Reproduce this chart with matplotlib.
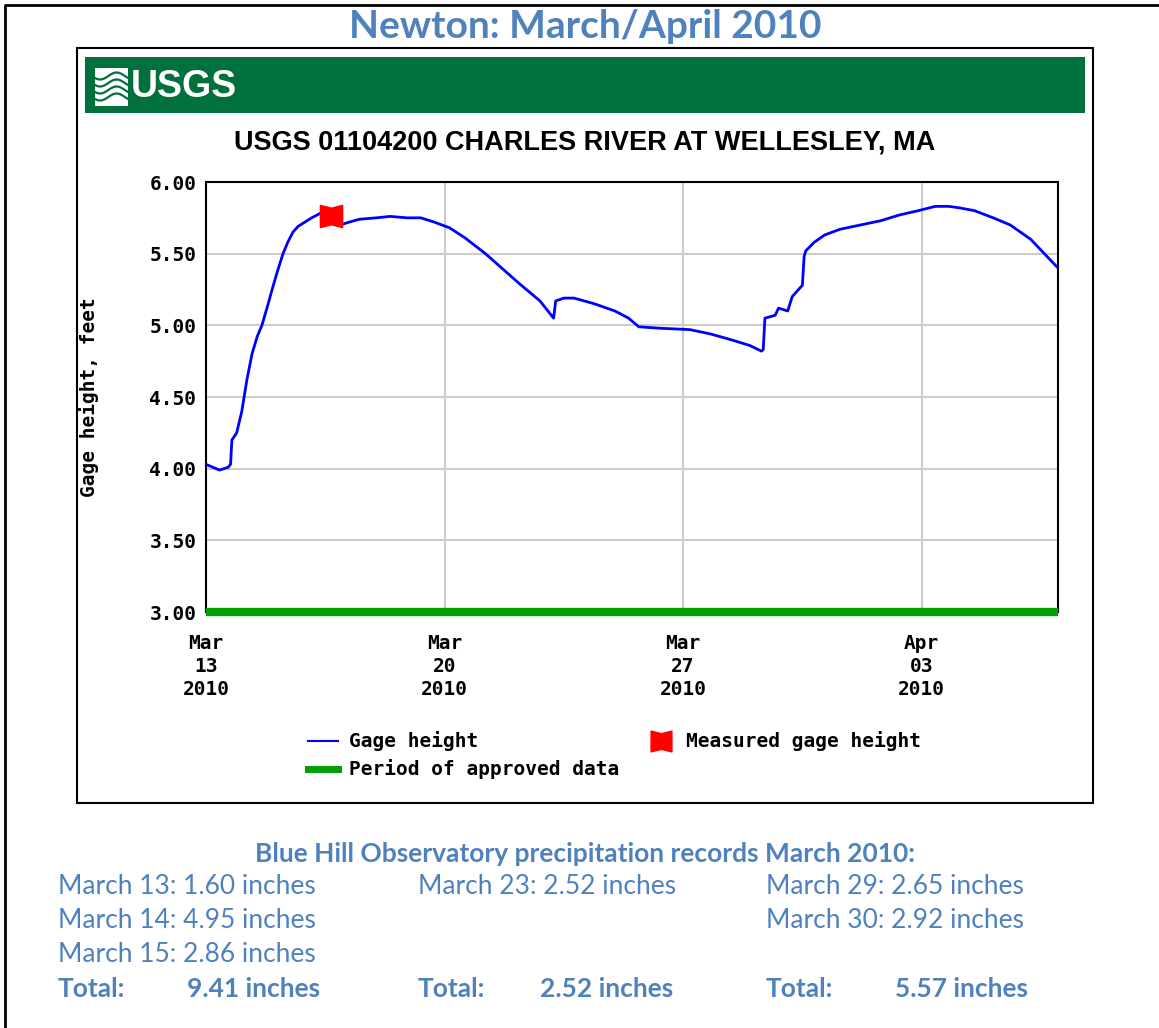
import numpy as np
import matplotlib
matplotlib.use("Agg")
from matplotlib import pyplot as plt
from matplotlib.path import Path
from matplotlib.patches import Rectangle
from matplotlib.lines import Line2D

# gage height readings, days since Mar 13 2010 00:00
days = [0.0, 0.2, 0.4, 0.65, 0.72, 0.76, 0.9, 1.05, 1.2, 1.35, 1.5, 1.64, 1.8, 1.94, 2.1,
        2.26, 2.4, 2.55, 2.7, 2.9, 3.1, 3.34, 3.5, 3.8, 3.93, 4.2, 4.5, 5.0, 5.4, 5.9,
        6.3, 6.7, 7.15, 7.6, 8.2, 8.77, 9.2, 9.8, 10.1, 10.2, 10.26, 10.5, 10.8, 11.4,
        12.0, 12.4, 12.7, 13.3, 14.2, 14.8, 15.4, 15.95, 16.3, 16.35, 16.4, 16.7, 16.8,
        17.07, 17.2, 17.5, 17.55, 17.6, 17.85, 18.15, 18.6, 19.2, 19.8, 20.35, 20.9,
        21.4, 21.8, 22.1, 22.55, 23.1, 23.6, 24.2, 24.6, 25.0]
height = [4.03, 4.01, 3.99, 4.01, 4.03, 4.20, 4.25, 4.40, 4.62, 4.80, 4.92, 5.00, 5.13, 5.25, 5.38,
          5.50, 5.58, 5.65, 5.69, 5.72, 5.75, 5.78, 5.77, 5.72, 5.70, 5.72, 5.74, 5.75, 5.76, 5.75,
          5.75, 5.72, 5.68, 5.61, 5.50, 5.38, 5.29, 5.17, 5.08, 5.05, 5.17, 5.19, 5.19, 5.15,
          5.10, 5.05, 4.99, 4.98, 4.97, 4.94, 4.90, 4.86, 4.82, 4.83, 5.05, 5.07, 5.12,
          5.10, 5.20, 5.28, 5.48, 5.52, 5.58, 5.63, 5.67, 5.70, 5.73, 5.77, 5.80,
          5.83, 5.83, 5.82, 5.80, 5.75, 5.70, 5.60, 5.50, 5.40]

measured_day = [3.67]
measured_height = [5.76]

approved_span = [0.0, 25.0]
approved_level = 3.0

yticks = [3.0, 3.5, 4.0, 4.5, 5.0, 5.5, 6.0]
xticks = [0, 7, 14, 21]
xlabels = ["Mar\n13\n2010", "Mar\n20\n2010", "Mar\n27\n2010", "Apr\n03\n2010"]

precip_cols = [
    ["March 13: 1.60 inches", "March 14: 4.95 inches", "March 15: 2.86 inches"],
    ["March 23: 2.52 inches"],
    ["March 29: 2.65 inches", "March 30: 2.92 inches"],
]
totals = ["9.41 inches", "2.52 inches", "5.57 inches"]

W, H = 1159, 1028
fig = plt.figure(figsize=(W / 100, H / 100), dpi=100)


def fx(px):
    return px / W


def fy(py):
    return 1 - py / H


blue_txt = "#4f81bd"
green = "#00703c"
mono = "DejaVu Sans Mono"
sans = ["Liberation Sans", "DejaVu Sans"]
doc = ["Lato", "DejaVu Sans"]
msize = 14

# page border (left and top only)
fig.add_artist(Line2D([fx(5), fx(5), fx(1159)], [0, fy(5), fy(5)], color="black", lw=2))

fig.text(fx(585), fy(27), "Newton: March/April 2010", ha="center", va="center",
         fontsize=28, fontweight="bold", color=blue_txt, family=doc)

# usgs panel
fig.add_artist(Rectangle((fx(77), fy(803)), fx(1093) - fx(77), fy(48) - fy(803),
                         fill=False, ec="black", lw=1.5))
fig.add_artist(Rectangle((fx(85), fy(113)), fx(1085) - fx(85), fy(57) - fy(113),
                         fc=green, ec="none"))
# wave logo
fig.add_artist(Rectangle((fx(95), fy(106)), fx(128) - fx(95), fy(68) - fy(106),
                         fc="white", ec="none"))
t = np.linspace(0, 1, 40)
for k in range(4):
    yy = 76 + k * 7 + 3.5 * np.sin(t * 2 * np.pi + 0.6)
    fig.add_artist(Line2D(fx(95 + 33 * t), fy(yy), color=green, lw=1.6))
fig.text(fx(131), fy(87), "USGS", ha="left", va="center", fontsize=27,
         fontweight="bold", color="white", family=sans)

fig.text(fx(585), fy(143), "USGS 01104200 CHARLES RIVER AT WELLESLEY, MA",
         ha="center", va="center", fontsize=19.5, fontweight="bold", family=sans)

ax = fig.add_axes([fx(206), fy(612), fx(1058) - fx(206), fy(182) - fy(612)])
ax.set_xlim(0, 25)
ax.set_ylim(3.0, 6.0)
ax.grid(True, color="#cccccc", lw=1.5)
ax.set_axisbelow(True)
for sp in ax.spines.values():
    sp.set_color("black")
    sp.set_linewidth(1.5)

ax.plot(approved_span, [approved_level, approved_level], color="#00a000", lw=6,
        solid_capstyle="butt", clip_on=False, zorder=3)
ax.plot(days, height, color="blue", lw=2, zorder=4)

bowtie = Path([(-1, -1), (0, -0.75), (1, -1), (1, 1), (0, 0.75), (-1, 1), (-1, -1)],
              [Path.MOVETO] + [Path.LINETO] * 5 + [Path.CLOSEPOLY])
ax.plot(measured_day, measured_height, linestyle="none", marker=bowtie,
        markersize=16, color="red", zorder=5)

ax.set_yticks(yticks)
ax.set_yticklabels(["%.2f" % v for v in yticks], family=mono, fontweight="bold", fontsize=msize)
ax.set_xticks(xticks)
ax.set_xticklabels(xlabels, family=mono, fontweight="bold", fontsize=msize, linespacing=1.25)
ax.tick_params(length=0, pad=7)
ax.tick_params(axis="x", pad=16)
ax.set_ylabel("Gage height, feet", family=mono, fontweight="bold", fontsize=msize, labelpad=36)

# legend
fig.add_artist(Line2D([fx(308), fx(338)], [fy(741)] * 2, color="blue", lw=1.5))
fig.text(fx(349), fy(741), "Gage height", family=mono, fontweight="bold", fontsize=msize,
         va="center")
fig.add_artist(Line2D([fx(308), fx(338)], [fy(769)] * 2, color="#00a000", lw=5))
fig.text(fx(349), fy(769), "Period of approved data", family=mono, fontweight="bold",
         fontsize=msize, va="center")
fig.add_artist(Line2D([fx(661)], [fy(741)], marker=bowtie, markersize=15, color="red",
                      linestyle="none"))
fig.text(fx(686), fy(741), "Measured gage height", family=mono, fontweight="bold",
         fontsize=msize, va="center")

# precipitation records
fig.text(fx(585), fy(854), "Blue Hill Observatory precipitation records March 2010:",
         ha="center", va="center", fontsize=19, fontweight="bold", color=blue_txt, family=doc)
col_x = [58, 418, 766]
val_x = [187, 540, 895]
for i, col in enumerate(precip_cols):
    for j, line in enumerate(col):
        fig.text(fx(col_x[i]), fy(887 + 34 * j), line, ha="left", va="center",
                 fontsize=19, color=blue_txt, family=doc)
    fig.text(fx(col_x[i]), fy(989), "Total:", ha="left", va="center", fontsize=19,
             fontweight="bold", color=blue_txt, family=doc)
    fig.text(fx(val_x[i]), fy(989), totals[i], ha="left", va="center", fontsize=19,
             fontweight="bold", color=blue_txt, family=doc)

fig.savefig("out.png", dpi=100)
